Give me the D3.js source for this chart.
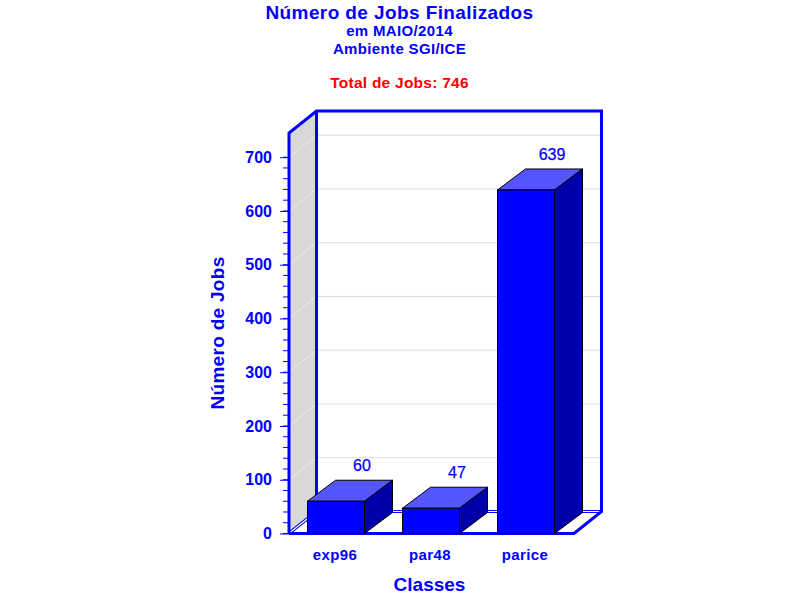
<!DOCTYPE html>
<html>
<head>
<meta charset="utf-8">
<script src="https://cdn.jsdelivr.net/npm/d3@7"></script>
<style>
  html, body { margin: 0; padding: 0; background: #fff; }
  text { font-family: "Liberation Sans", Arial, sans-serif; font-weight: bold; }
</style>
</head>
<body>
<div id="chart"></div>
<script>
// Data
const categories = ['exp96', 'par48', 'parice'];
const jobCounts = [60, 47, 639];
const yTicks = [0, 100, 200, 300, 400, 500, 600, 700];
const minorTicks = d3.range(0, 701, 20);
const titleLines = [
  { text: 'Número de Jobs Finalizados', y: 18.5, size: 19, spacing: 0.4, color: '#0000ff' },
  { text: 'em MAIO/2014', y: 36, size: 15, spacing: 0.35, color: '#0000ff' },
  { text: 'Ambiente SGI/ICE', y: 53.5, size: 15, spacing: 0.35, color: '#0000ff' },
  { text: 'Total de Jobs: 746', y: 88, size: 15.5, spacing: 0.25, color: '#ff0000' }
];

const blue = '#0000ff';
const width = 800, height = 600;
const plotLeft = 289, plotRight = 574, plotBottom = 533.5, plotTop = 133;
const depthX = 27.5, depthY = 22;   // 3D offset of the back wall

const svg = d3.select('#chart').append('svg')
  .attr('width', width).attr('height', height)
  .style('display', 'block');

const y = d3.scaleLinear().domain([0, 745]).range([plotBottom, plotTop]);
const x = d3.scaleBand().domain(categories).range([plotLeft - 0.5, plotRight - 0.5]).paddingInner(0.4).paddingOuter(0.2);

const line = (p, color, w) => svg.append('path')
  .attr('d', d3.line()(p))
  .attr('fill', 'none').attr('stroke', color).attr('stroke-width', w);

// Left wall
svg.append('path')
  .attr('d', d3.line()([[plotLeft, plotBottom], [plotLeft + depthX, plotBottom - depthY], [plotLeft + depthX, plotTop - depthY], [plotLeft, plotTop]]) + 'Z')
  .attr('fill', '#d8d8d8');

// Gridlines, wall and back
yTicks.forEach(t => {
  if (t === 0) return;
  line([[plotLeft, y(t)], [plotLeft + depthX, y(t) - depthY]], '#ececec', 1);
  line([[plotLeft + depthX, y(t) - depthY], [plotRight + depthX, y(t) - depthY]], '#dcdcdc', 1);
});

// Floor: the left and back edges are thin double lines
const floorBackY = plotBottom - depthY;
svg.append('path')
  .attr('d', d3.line()([[plotLeft, plotBottom], [plotLeft + depthX, floorBackY], [plotRight + depthX, floorBackY], [plotRight, plotBottom]]) + 'Z')
  .attr('fill', '#fff');
line([[plotLeft + 1, plotBottom - 1], [plotLeft + depthX, floorBackY]], blue, 3.5);
line([[plotLeft + 1, plotBottom - 1], [plotLeft + depthX, floorBackY]], '#ffffff', 1.2);
line([[plotLeft + depthX, 510.5], [plotRight + depthX, 510.5]], blue, 1);
line([[plotLeft + depthX, 511.5], [plotRight + depthX, 511.5]], '#ffffff', 1);
line([[plotLeft + depthX, 512.5], [plotRight + depthX, 512.5]], blue, 1);

// Frame
line([[plotLeft, plotBottom], [plotLeft, plotTop], [plotLeft + depthX, plotTop - depthY], [plotRight + depthX, plotTop - depthY], [plotRight + depthX, floorBackY], [plotRight, plotBottom], [plotLeft, plotBottom]], blue, 3);
line([[plotLeft + depthX, plotTop - depthY], [plotLeft + depthX, floorBackY]], blue, 3);

// Ticks
const axis = svg.append('g').attr('transform', `translate(${plotLeft},0)`)
  .call(d3.axisLeft(y).tickValues(yTicks).tickSize(9).tickPadding(8).tickFormat(d3.format('d')));
axis.select('.domain').remove();
axis.selectAll('.tick line').attr('stroke', blue).attr('stroke-width', 1);
axis.selectAll('.tick text').attr('fill', blue).style('font-size', '16px').style('font-family', '"Liberation Sans"').style('font-weight', 'bold');
svg.append('g').selectAll('line').data(minorTicks).enter().append('line')
  .attr('x1', plotLeft - 6).attr('x2', plotLeft)
  .attr('y1', d => y(d)).attr('y2', d => y(d))
  .attr('stroke', blue).attr('stroke-width', 1);

// Bars
const bars = svg.append('g').selectAll('g').data(categories).enter().append('g');
const barDepthX = 28, barDepthY = 21;
bars.append('path')
  .attr('d', (d, i) => {
    const x0 = x(d), x1 = x0 + x.bandwidth(), yt = y(jobCounts[i]);
    return d3.line()([[x0, yt], [x0 + barDepthX, yt - barDepthY], [x1 + barDepthX, yt - barDepthY], [x1, yt]]) + 'Z';
  })
  .attr('fill', '#5555ff').attr('stroke', '#000');
bars.append('path')
  .attr('d', (d, i) => {
    const x1 = x(d) + x.bandwidth(), yt = y(jobCounts[i]);
    return d3.line()([[x1, yt], [x1 + barDepthX, yt - barDepthY], [x1 + barDepthX, plotBottom - barDepthY], [x1, plotBottom]]) + 'Z';
  })
  .attr('fill', '#0000aa').attr('stroke', '#000');
bars.append('rect')
  .attr('x', d => x(d))
  .attr('y', (d, i) => y(jobCounts[i]))
  .attr('width', x.bandwidth())
  .attr('height', (d, i) => plotBottom - y(jobCounts[i]))
  .attr('fill', blue).attr('stroke', '#000');

// Value labels
bars.append('text')
  .attr('x', d => x(d) + x.bandwidth() - 2.5)
  .attr('y', (d, i) => y(jobCounts[i]) - barDepthY - 9)
  .attr('text-anchor', 'middle')
  .attr('fill', blue).attr('stroke', blue).attr('stroke-width', 0.25)
  .style('font-size', '16px').style('font-weight', 'normal')
  .text((d, i) => jobCounts[i]);

// Category labels
bars.append('text')
  .attr('x', d => x(d) + x.bandwidth() / 2 - 1)
  .attr('y', 560)
  .attr('text-anchor', 'middle')
  .attr('fill', blue)
  .style('font-size', '15px').style('letter-spacing', '0.4px')
  .text(d => d);

// Titles
svg.append('g').selectAll('text').data(titleLines).enter().append('text')
  .attr('x', 399.5).attr('y', d => d.y)
  .attr('text-anchor', 'middle')
  .attr('fill', d => d.color)
  .style('font-size', d => d.size + 'px')
  .style('letter-spacing', d => d.spacing + 'px')
  .text(d => d.text);

svg.append('text')
  .attr('x', 429.5).attr('y', 591)
  .attr('text-anchor', 'middle').attr('fill', blue)
  .style('font-size', '19px')
  .text('Classes');

svg.append('text')
  .attr('transform', 'translate(224,333) rotate(-90)')
  .attr('text-anchor', 'middle').attr('fill', blue)
  .style('font-size', '19px').style('letter-spacing', '0.3px')
  .text('Número de Jobs');
</script>
</body>
</html>
